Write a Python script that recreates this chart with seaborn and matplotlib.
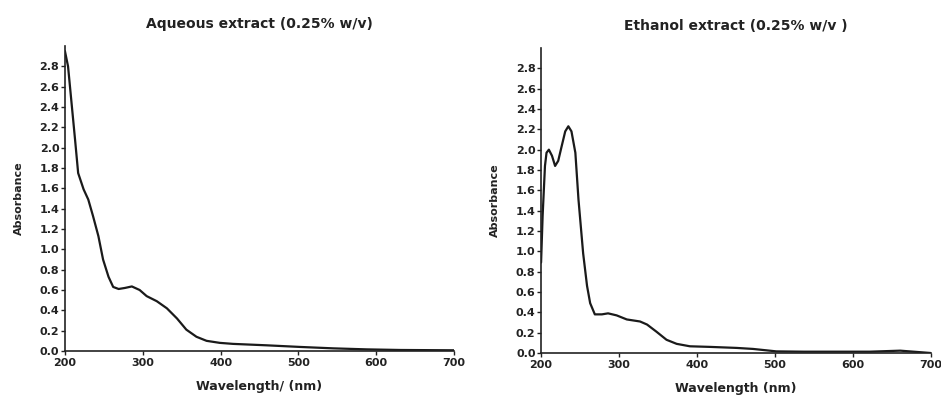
import pandas as pd
import seaborn as sns
import matplotlib
matplotlib.use("Agg")
import matplotlib.pyplot as plt

# Aqueous extract spectrum
aq_wavelength = [200, 204, 208, 213, 217, 224, 230, 236, 243, 249, 256, 262, 269, 277, 286,
                 296, 305, 318, 331, 344, 356, 369, 382, 399, 416, 459, 502, 545, 588, 631, 700]
aq_absorbance = [2.95, 2.80, 2.48, 2.08, 1.75, 1.59, 1.49, 1.33, 1.13, 0.90, 0.73, 0.63, 0.61, 0.62, 0.635,
                 0.60, 0.54, 0.49, 0.42, 0.32, 0.21, 0.14, 0.10, 0.08, 0.07, 0.056, 0.04, 0.026, 0.016, 0.01, 0.007]

# Ethanol extract spectrum
et_wavelength = [200, 202, 205, 207, 210, 214, 218, 222, 226, 231, 235, 239, 244, 248, 254, 259,
                 263, 269, 278, 286, 297, 310, 327, 336, 348, 361, 374, 391, 417, 451, 472, 502,
                 537, 622, 661, 678, 700]
et_absorbance = [0.89, 1.35, 1.84, 1.97, 2.00, 1.94, 1.84, 1.89, 2.02, 2.18, 2.23, 2.18, 1.97, 1.51, 0.98, 0.66,
                 0.49, 0.38, 0.38, 0.39, 0.37, 0.33, 0.31, 0.28, 0.21, 0.13, 0.09, 0.066, 0.06, 0.05, 0.04, 0.016,
                 0.013, 0.013, 0.023, 0.013, 0.0]

panels = [
    ("Aqueous extract (0.25% w/v)", "Wavelength/ (nm)", aq_wavelength, aq_absorbance),
    ("Ethanol extract (0.25% w/v )", "Wavelength (nm)", et_wavelength, et_absorbance),
]
x_ticks = [200, 300, 400, 500, 600, 700]
y_ticks = [0.0, 0.2, 0.4, 0.6, 0.8, 1.0, 1.2, 1.4, 1.6, 1.8, 2.0, 2.2, 2.4, 2.6, 2.8]

sns.set_theme(style="ticks")
plt.rcParams["font.family"] = ["DejaVu Sans"]
plt.rcParams["font.weight"] = "bold"

fig = plt.figure(figsize=(9.41, 4.0), dpi=100)
axes_rects = [
    [0.069, 0.1225, 0.4135, 0.7625],
    [0.575, 0.1175, 0.4140, 0.7625],
]

for rect, (title, xlabel, wl, ab) in zip(axes_rects, panels):
    ax = fig.add_axes(rect)
    df = pd.DataFrame({"Wavelength": wl, "Absorbance": ab})
    sns.lineplot(data=df, x="Wavelength", y="Absorbance", color="#1a1a1a",
                 linewidth=1.6, ax=ax)
    ax.set_xlim(200, 700)
    ax.set_ylim(0, 3.0)
    ax.set_xticks(x_ticks)
    ax.set_yticks(y_ticks)
    ax.set_yticklabels([f"{v:.1f}" for v in y_ticks])
    ax.tick_params(axis="y", labelsize=8, length=3, width=1, pad=1, colors="#222222")
    ax.tick_params(axis="x", labelsize=8, length=3, width=1, pad=2, colors="#222222")
    for lbl in ax.get_xticklabels() + ax.get_yticklabels():
        lbl.set_fontweight("bold")
    sns.despine(ax=ax)
    ax.spines["left"].set_linewidth(1.2)
    ax.spines["bottom"].set_linewidth(1.2)
    ax.spines["left"].set_color("#222222")
    ax.spines["bottom"].set_color("#222222")
    ax.set_title(title, fontsize=10, fontweight="bold", pad=13, color="#222222")
    ax.set_xlabel(xlabel, fontsize=9, fontweight="bold", labelpad=9, color="#222222")
    ax.set_ylabel("Absorbance", fontsize=8, fontweight="bold", labelpad=11, color="#222222")

fig.savefig("out.png", dpi=100)
